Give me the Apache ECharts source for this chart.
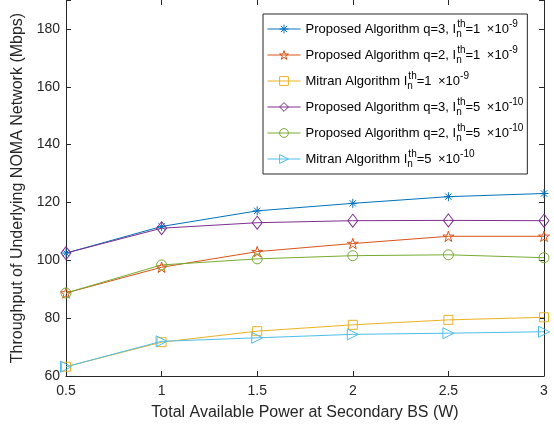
<!DOCTYPE html>
<html>
<head>
<meta charset="utf-8">
<script src="https://cdn.jsdelivr.net/npm/echarts@6/dist/echarts.min.js"></script>
<style>
  html, body { margin: 0; padding: 0; background: #fff; overflow: hidden; }
  #chart { width: 554px; height: 429px; }
</style>
</head>
<body>
<div id="chart"></div>
<script>
// Total available power at the secondary BS (W)
var powerW = [0.5, 1, 1.5, 2, 2.5, 3];

// Throughput of the underlying NOMA network (Mbps)
var propQ3_1e9   = [102.5, 111.7, 117.1, 119.7, 122.0, 123.1];
var propQ2_1e9   = [88.7, 97.6, 103.0, 105.8, 108.3, 108.3];
var mitran_1e9   = [63.2, 71.7, 75.5, 77.7, 79.4, 80.3];
var propQ3_5e10  = [102.5, 111.1, 113.0, 113.7, 113.8, 113.7];
var propQ2_5e10  = [88.7, 98.4, 100.5, 101.6, 101.9, 100.9];
var mitran_5e10  = [63.2, 72.0, 73.2, 74.4, 74.8, 75.3];

var yTicks = [60, 80, 100, 120, 140, 160, 180];
var xTicks = [0.5, 1, 1.5, 2, 2.5, 3];

var AXIS = '#262626';
var FONT = 'Liberation Sans, Arial, Helvetica, sans-serif';

// marker shapes
var ASTERISK = 'path://M0,50L100,50M50,0L50,100M15,15L85,85M85,15L15,85';
var PENTAGRAM = 'path://M50,0L61.2,34.5L97.6,34.5L68.2,55.9L79.4,90.5L50,69.1L20.6,90.5L31.8,55.9L2.4,34.5L38.8,34.5Z';

var seriesDefs = [
  { key: 'a', values: propQ3_1e9,  color: '#0072BD', symbol: ASTERISK,  size: 9,  rotate: 0,
    label: 'Proposed Algorithm q=3, I{sub|n}{sup|th}=1\u2002\u00d710{sup|-9}' },
  { key: 'b', values: propQ2_1e9,  color: '#D95319', symbol: PENTAGRAM, size: 11, rotate: 0,
    label: 'Proposed Algorithm q=2, I{sub|n}{sup|th}=1\u2002\u00d710{sup|-9}' },
  { key: 'c', values: mitran_1e9,  color: '#EDB120', symbol: 'rect',    size: 9,  rotate: 0,
    label: 'Mitran Algorithm I{sub|n}{sup|th}=1\u2002\u00d710{sup|-9}' },
  { key: 'd', values: propQ3_5e10, color: '#7E2F8E', symbol: 'diamond', size: [10, 13], rotate: 0,
    label: 'Proposed Algorithm q=3, I{sub|n}{sup|th}=5\u2002\u00d710{sup|-10}' },
  { key: 'e', values: propQ2_5e10, color: '#77AC30', symbol: 'circle',  size: 10, rotate: 0,
    label: 'Proposed Algorithm q=2, I{sub|n}{sup|th}=5\u2002\u00d710{sup|-10}' },
  { key: 'f', values: mitran_5e10, color: '#4DBEEE', symbol: 'triangle', size: 11, rotate: -90,
    label: 'Mitran Algorithm I{sub|n}{sup|th}=5\u2002\u00d710{sup|-10}' }
];

var labelByKey = {};
seriesDefs.forEach(function (d) { labelByKey[d.key] = d.label; });

var hollow = function (c) {
  return { color: 'rgba(255,255,255,0)', borderColor: c, borderWidth: 1 };
};

var series = seriesDefs.map(function (d) {
  return {
    name: d.key,
    type: 'line',
    xAxisIndex: 0,
    yAxisIndex: 0,
    data: powerW.map(function (x, i) { return [x, d.values[i]]; }),
    symbol: d.symbol,
    symbolSize: d.size,
    symbolRotate: d.rotate,
    symbolKeepAspect: true,
    showAllSymbol: true,
    lineStyle: { color: d.color, width: 1 },
    itemStyle: hollow(d.color),
    emphasis: { disabled: true },
    animation: false
  };
});

var chart = echarts.init(document.getElementById('chart'), null, { renderer: 'canvas' });

var baseAxis = {
  axisLine: { show: true, lineStyle: { color: AXIS, width: 1 } },
  axisTick: { show: true, inside: true, length: 5, lineStyle: { color: AXIS, width: 1 } },
  splitLine: { show: false }
};

chart.setOption({
  backgroundColor: '#fff',
  animation: false,
  grid: { left: 66, right: 10, top: 0, bottom: 53, containLabel: false },
  xAxis: [
    Object.assign({}, baseAxis, {
      type: 'value', position: 'bottom', min: 0.5, max: 3, interval: 0.5,
      name: 'Total Available Power at Secondary BS (W)',
      nameLocation: 'middle', nameGap: 29,
      nameTextStyle: { color: AXIS, fontSize: 16, fontFamily: FONT },
      axisLabel: { color: AXIS, fontSize: 14, fontFamily: FONT, margin: 8,
        formatter: function (v) { return xTicks.indexOf(v) >= 0 ? String(v) : ''; } }
    }),
    // mirrored ticks along the top edge; the frame line itself lies at the page edge
    Object.assign({}, baseAxis, {
      type: 'value', position: 'top', min: 0.5, max: 3, interval: 0.5,
      axisLine: { show: false },
      axisLabel: { show: false }
    })
  ],
  yAxis: [
    Object.assign({}, baseAxis, {
      type: 'value', position: 'left', min: 60, max: 190, interval: 20,
      name: 'Throughput of Underlying NOMA Network (Mbps)',
      nameLocation: 'middle', nameGap: 34,
      nameTextStyle: { color: AXIS, fontSize: 16, fontFamily: FONT },
      axisLabel: { color: AXIS, fontSize: 14, fontFamily: FONT, margin: 6,
        formatter: function (v) { return yTicks.indexOf(v) >= 0 ? String(v) : ''; } }
    }),
    Object.assign({}, baseAxis, {
      type: 'value', position: 'right', min: 60, max: 190, interval: 20,
      axisLabel: { show: false }
    })
  ],
  legend: {
    orient: 'vertical',
    left: 263,
    top: 14,
    padding: [5, 4, 5, 4],
    itemWidth: 33,
    itemHeight: 11,
    itemGap: 6,
    borderColor: AXIS,
    borderWidth: 1,
    backgroundColor: '#fff',
    selectedMode: false,
    data: seriesDefs.map(function (d) {
      return {
        name: d.key,
        itemStyle: hollow(d.color),
        lineStyle: { color: d.color, width: 1 }
      };
    }),
    formatter: function (name) { return labelByKey[name]; },
    textStyle: {
      color: '#000', fontSize: 13, fontFamily: FONT, lineHeight: 20,
      rich: {
        sup: { fontSize: 10, fontFamily: FONT, color: '#000', lineHeight: 9, verticalAlign: 'top' },
        sub: { fontSize: 10, fontFamily: FONT, color: '#000', lineHeight: 9, verticalAlign: 'bottom', width: 1 }
      }
    }
  },
  series: series
});
</script>
</body>
</html>
